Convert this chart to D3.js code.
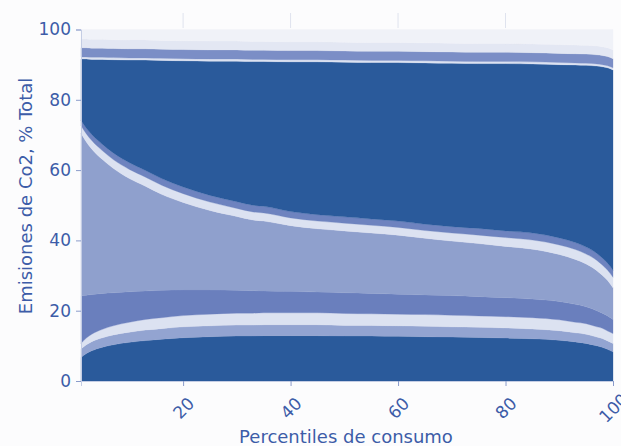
<!DOCTYPE html>
<html>
<head>
<meta charset="utf-8">
<script src="https://cdn.jsdelivr.net/npm/d3@7"></script>
<style>
  body { margin: 0; background: #fcfcfd; }
  svg { display: block; }
</style>
</head>
<body>
<svg id="chart" width="621" height="446"></svg>
<script>
// Percentile of consumption (x axis)
const percentiles = [1, 2, 3, 5, 7, 10, 13, 16, 20, 25, 30, 33, 35, 40, 45, 50, 55, 60, 65, 70, 75, 80, 85, 90, 93, 95, 97, 98, 99, 100];

// Share of total CO2 emissions (%) of each stacked component, bottom to top
const comp01 = [6.7, 7.8, 8.6, 9.6, 10.3, 11.0, 11.5, 11.9, 12.3, 12.6, 12.8, 12.8, 12.9, 12.9, 12.9, 12.8, 12.8, 12.7, 12.6, 12.5, 12.4, 12.2, 12.0, 11.6, 11.1, 10.7, 10.0, 9.6, 9.0, 8.3];
const comp02 = [2.4, 2.5, 2.6, 2.7, 2.8, 2.9, 3.0, 3.0, 3.1, 3.1, 3.1, 3.1, 3.1, 3.1, 3.1, 3.0, 3.0, 3.0, 3.0, 2.9, 2.9, 2.9, 2.8, 2.7, 2.6, 2.6, 2.5, 2.5, 2.4, 2.4];
const comp03 = [1.6, 1.9, 2.1, 2.4, 2.6, 2.8, 3.0, 3.1, 3.2, 3.3, 3.4, 3.4, 3.4, 3.4, 3.4, 3.4, 3.3, 3.3, 3.3, 3.3, 3.2, 3.2, 3.2, 3.1, 3.0, 3.0, 2.9, 2.9, 2.8, 2.8];
const comp04 = [13.5, 12.2, 11.3, 10.2, 9.4, 8.7, 8.1, 7.8, 7.3, 6.9, 6.5, 6.4, 6.2, 6.1, 5.9, 5.9, 5.8, 5.7, 5.6, 5.6, 5.5, 5.4, 5.3, 5.2, 5.1, 4.8, 4.6, 4.3, 4.3, 4.0];
const comp05 = [46.3, 43.6, 41.4, 38.1, 35.4, 32.2, 29.8, 27.3, 24.9, 22.6, 21.0, 20.1, 19.9, 18.7, 18.0, 17.6, 17.2, 16.8, 16.1, 15.5, 15.1, 14.6, 14.2, 13.4, 12.8, 12.2, 11.4, 10.8, 10.1, 9.0];
const comp06 = [2.2, 2.3, 2.4, 2.5, 2.5, 2.6, 2.6, 2.6, 2.5, 2.4, 2.3, 2.3, 2.3, 2.2, 2.2, 2.2, 2.2, 2.2, 2.2, 2.3, 2.4, 2.5, 2.6, 2.7, 2.8, 2.8, 2.9, 2.9, 2.9, 3.0];
const comp07 = [1.5, 1.6, 1.7, 1.8, 1.9, 1.9, 1.9, 1.9, 1.9, 1.9, 1.9, 1.9, 1.9, 1.8, 1.8, 1.8, 1.8, 1.8, 1.8, 1.8, 1.9, 1.9, 2.0, 2.0, 2.0, 2.0, 2.0, 2.0, 2.0, 2.0];
const comp08 = [17.4, 19.7, 21.4, 24.2, 26.5, 29.2, 31.4, 33.6, 35.9, 38.2, 40.0, 40.9, 41.2, 42.6, 43.5, 44.0, 44.5, 45.1, 45.9, 46.5, 46.9, 47.6, 48.1, 49.3, 50.5, 51.7, 53.3, 54.4, 55.6, 57.0];
const comp09 = [0.6, 0.6, 0.6, 0.6, 0.6, 0.6, 0.6, 0.6, 0.6, 0.6, 0.6, 0.6, 0.6, 0.6, 0.6, 0.6, 0.6, 0.6, 0.6, 0.6, 0.6, 0.6, 0.6, 0.6, 0.6, 0.6, 0.6, 0.6, 0.6, 0.6];
const comp10 = [2.6, 2.6, 2.6, 2.6, 2.6, 2.6, 2.6, 2.6, 2.6, 2.6, 2.6, 2.6, 2.6, 2.6, 2.6, 2.6, 2.6, 2.6, 2.6, 2.6, 2.6, 2.6, 2.6, 2.6, 2.6, 2.6, 2.6, 2.6, 2.6, 2.6];
const comp11 = [2.5, 2.5, 2.5, 2.5, 2.5, 2.5, 2.5, 2.5, 2.5, 2.5, 2.5, 2.5, 2.5, 2.5, 2.5, 2.5, 2.5, 2.5, 2.5, 2.5, 2.5, 2.5, 2.5, 2.5, 2.5, 2.5, 2.5, 2.5, 2.5, 2.5];
const comp12 = [2.7, 2.7, 2.8, 2.8, 2.9, 3.0, 3.0, 3.1, 3.2, 3.3, 3.3, 3.4, 3.4, 3.5, 3.5, 3.6, 3.7, 3.7, 3.8, 3.9, 4.0, 4.0, 4.1, 4.3, 4.4, 4.5, 4.7, 4.9, 5.2, 5.8];

const yTicks = [0, 20, 40, 60, 80, 100];
const xTicks = [20, 40, 60, 80, 100];
const xTitle = "Percentiles de consumo";
const yTitle = "Emisiones de Co2, % Total";

const components = [comp01, comp02, comp03, comp04, comp05, comp06, comp07, comp08, comp09, comp10, comp11, comp12];
const keys = components.map((_, i) => "c" + (i + 1));
const colors = ["#2a5a9b", "#93a4d1", "#dce2f1", "#6a7fbd", "#8fa0cd", "#dce2f1",
                "#6e83bf", "#2a5a9b", "#dce2f1", "#7b8ec6", "#e3e7f3", "#f0f2f8"];

const rows = percentiles.map((p, i) => {
  const r = { p };
  components.forEach((arr, k) => { r[keys[k]] = arr[i]; });
  return r;
});

const svg = d3.select("#chart");
const plotLeft = 81, plotRight = 613, plotTop = 29.5, plotBottom = 381;
const x = d3.scaleLinear().domain([1, 100]).range([plotLeft, plotRight]);
const y = d3.scaleLinear().domain([0, 100]).range([plotBottom, plotTop]);

const textColor = "#3d5ca8";
const font = "DejaVu Sans, sans-serif";

// faint tick marks above the plot
svg.append("g").selectAll("line").data(xTicks.slice(0, 4)).join("line")
  .attr("x1", d => x(d)).attr("x2", d => x(d))
  .attr("y1", 13).attr("y2", 28)
  .attr("stroke", "#dfe3ee").attr("stroke-width", 1);

// stacked areas
const series = d3.stack().keys(keys)(rows);
const area = d3.area()
  .x(d => x(d.data.p))
  .y0(d => y(d[0]))
  .y1(d => y(d[1]))
  .curve(d3.curveMonotoneX);

svg.append("g").selectAll("path").data(series).join("path")
  .attr("d", area)
  .attr("fill", (d, i) => colors[i])
  .attr("stroke", (d, i) => colors[i])
  .attr("stroke-width", 0.3);

// y axis
const yAxis = svg.append("g").attr("transform", `translate(${plotLeft},0)`)
  .call(d3.axisLeft(y).tickValues(yTicks).tickSize(5).tickPadding(5));
yAxis.select(".domain").attr("stroke", "#c4cde4");
yAxis.selectAll(".tick line").attr("stroke", "#8a9bcb");
yAxis.selectAll(".tick text").attr("fill", textColor)
  .style("font-family", font).style("font-size", "17px");

// x axis
const xAxis = svg.append("g").attr("transform", `translate(0,${plotBottom})`)
  .call(d3.axisBottom(x).tickValues(xTicks).tickSize(5).tickPadding(0));
xAxis.select(".domain").attr("stroke", "#c4cde4");
xAxis.selectAll(".tick line").attr("stroke", "#8a9bcb");
xAxis.selectAll(".tick text")
  .attr("fill", textColor)
  .style("font-family", font).style("font-size", "17px")
  .attr("text-anchor", "middle")
  .attr("dy", null)
  .attr("dominant-baseline", "central")
  .attr("y", 0)
  .attr("transform", "translate(0,27) rotate(-45)");

// axis titles
svg.append("text")
  .attr("x", 346).attr("y", 443)
  .attr("text-anchor", "middle")
  .attr("fill", textColor)
  .style("font-family", font).style("font-size", "18px")
  .text(xTitle);

svg.append("text")
  .attr("transform", "translate(32,196) rotate(-90)")
  .attr("text-anchor", "middle")
  .attr("fill", textColor)
  .style("font-family", font).style("font-size", "18px")
  .text(yTitle);
</script>
</body>
</html>
